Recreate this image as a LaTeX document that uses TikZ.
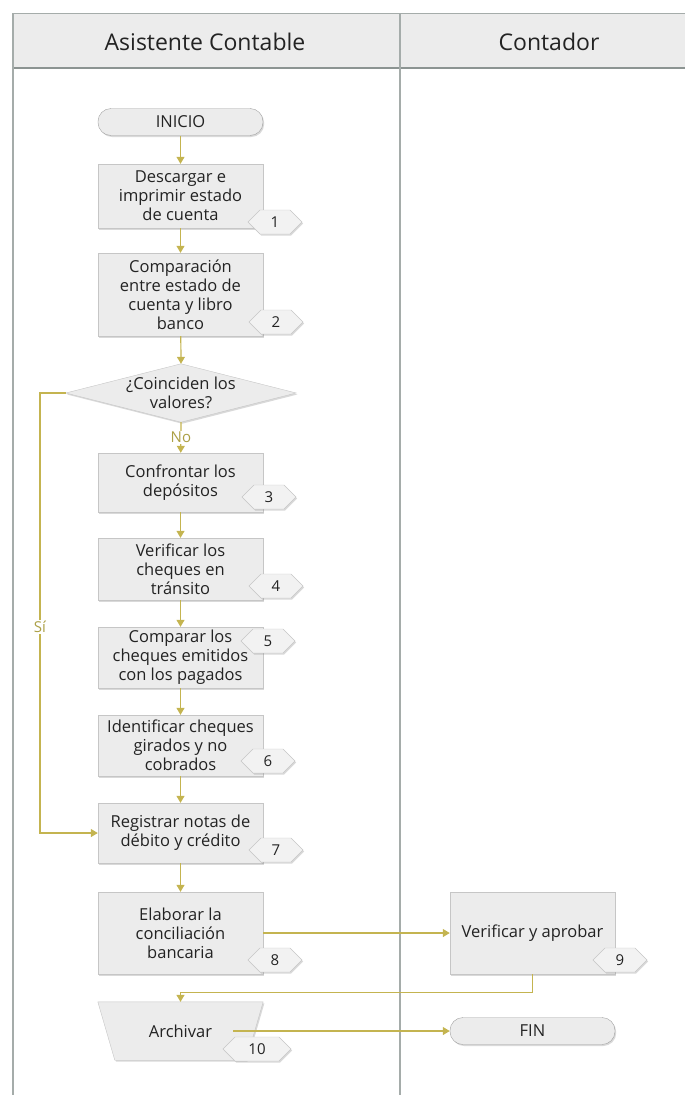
\documentclass[tikz,border=0pt]{standalone}
\usepackage{fontspec}
\setmainfont{Open Sans}
\usetikzlibrary{arrows.meta,shapes.symbols,shadows,backgrounds}
\definecolor{boxfill}{RGB}{236,236,236}
\definecolor{boxdraw}{RGB}{198,198,198}
\definecolor{termdraw}{RGB}{160,160,160}
\definecolor{badgefill}{RGB}{242,242,242}
\definecolor{conn}{RGB}{196,180,80}
\definecolor{lblc}{RGB}{172,160,70}
\definecolor{txt}{RGB}{35,35,35}
\definecolor{lanec}{RGB}{165,172,170}
\definecolor{lanedark}{RGB}{140,148,146}
\definecolor{hdrfill}{RGB}{236,236,236}
\begin{document}
\begin{tikzpicture}[x=1pt,y=-1pt,
  every node/.style={text=txt},
  shad/.style={drop shadow={shadow xshift=1.2pt,shadow yshift=-1.5pt,opacity=.25,fill=black!60}},
  proc/.style={draw=boxdraw,fill=boxfill,shad,minimum width=165pt,align=center,inner sep=2pt,font=\fontsize{16.5}{19}\selectfont},
  term/.style={draw=termdraw,fill=boxfill,shad,rounded corners=13pt,minimum width=165pt,minimum height=27pt,inner sep=0pt,font=\fontsize{16.5}{19}\selectfont},
  badge/.style={shape=signal,signal to=east and west,draw=boxdraw,fill=badgefill,shad,minimum width=54pt,minimum height=24pt,inner sep=0pt,font=\fontsize{15}{18}\selectfont},
  textonly/.style={align=center,inner sep=0pt,font=\fontsize{16.5}{19}\selectfont},
  hdr/.style={font=\fontsize{23}{27}\selectfont},
  flow/.style={draw=conn,line width=1.2pt,-{Triangle[width=8pt,length=7pt]}},
  lbl/.style={text=lblc,fill=white,inner sep=1pt,font=\fontsize{15}{18}\selectfont}
]
\useasboundingbox (0,0) rectangle (685,1095);
% lanes
\fill[hdrfill] (13,13) rectangle (685,68);
\draw[lanec,line width=1pt] (13,13) -- (685,13);
\draw[lanedark,line width=1.6pt] (13,68) -- (685,68);
\draw[lanec,line width=1.6pt] (13,13) -- (13,1095);
\draw[lanec,line width=1.6pt] (400,13) -- (400,1095);
\node[hdr] (h1) at (205,42) {Asistente Contable};
\node[hdr] (h2) at (549,42) {Contador};

% nodes
\node[term] (ini) at (180.5,122) {INICIO};
\node[proc,minimum height=64pt] (p1) at (180.5,196) {Descargar e\\imprimir estado\\de cuenta};
\node[proc,minimum height=83pt] (p2) at (180.5,294.5) {Comparación\\entre estado de\\cuenta y libro\\banco};
\node[textonly,minimum width=230pt,minimum height=58pt] (d) at (181,393) {¿Coinciden los\\valores?};
\node[proc,minimum height=59pt] (p3) at (180.5,482.5) {Confrontar los\\depósitos};
\node[proc,minimum height=62pt] (p4) at (180.5,569) {Verificar los\\cheques en\\tránsito};
\node[proc,minimum height=61pt] (p5) at (180.5,657.5) {Comparar los\\cheques emitidos\\con los pagados};
\node[proc,minimum height=61pt] (p6) at (180.5,745.5) {Identificar cheques\\girados y no\\cobrados};
\node[proc,minimum height=60pt] (p7) at (180.5,833) {Registrar notas de\\débito y crédito};
\node[proc,minimum height=82pt] (p8) at (180.5,933) {Elaborar la\\conciliación\\bancaria};
\node[proc,minimum height=82pt] (p9) at (532.5,933) {Verificar y aprobar};
\node[textonly,minimum width=165pt,minimum height=58pt] (arch) at (180.5,1031) {Archivar};
\node[term] (fin) at (532.5,1031) {FIN};

\begin{scope}[on background layer]
\path[draw=boxdraw,fill=boxfill,shad] (d.west) -- (d.north) -- (d.east) -- (d.south) -- cycle;
\path[draw=boxdraw,fill=boxfill,shad] (arch.north west) -- (arch.north east)
   -- ([xshift=-17pt]arch.south east) -- ([xshift=17pt]arch.south west) -- cycle;
\end{scope}

% badges
\node[badge] (b1) at (275,222) {1};
\node[badge] (b2) at (276,322) {2};
\node[badge] (b3) at (269,497) {3};
\node[badge] (b4) at (276,586) {4};
\node[badge] (b5) at (268,641) {5};
\node[badge] (b6) at (268,761) {6};
\node[badge] (b7) at (276,850) {7};
\node[badge] (b8) at (275,960) {8};
\node[badge] (b9) at (620,960) {9};
\node[badge,minimum width=68pt] (b10) at (257,1049) {10};

% connectors
\draw[flow] (ini) -- (p1);
\draw[flow] (p1) -- (p2);
\draw[flow] (p2) -- (d.north);
\draw[flow] (d.south) -- node[lbl] (lno) {No} (p3);
\draw[flow] (p3) -- (p4);
\draw[flow] (p4) -- (p5);
\draw[flow] (p5) -- (p6);
\draw[flow] (p6) -- (p7);
\draw[flow] (p7) -- (p8);
\coordinate (sj) at (40,393);
\draw[flow] (d.west) -- (sj) |- node[lbl,pos=0.266] (lsi) {Sí} (p7.west);
\draw[flow] (p8) -- (p9);
\draw[flow] (p9.south) -- ++(0,18) -| (arch.north);
\draw[flow] ([xshift=-30pt]arch.east) -- (fin.west);
\end{tikzpicture}
\end{document}
